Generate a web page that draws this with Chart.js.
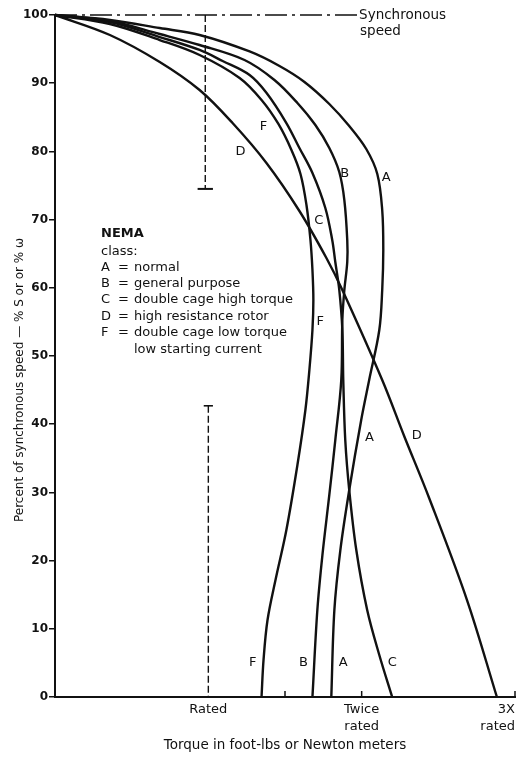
<!DOCTYPE html>
<html>
<head>
<meta charset="utf-8">
<script src="https://cdn.jsdelivr.net/npm/chart.js@4.4.0/dist/chart.umd.min.js"></script>
<style>
  html, body { margin: 0; padding: 0; background: #fff; }
</style>
</head>
<body>
<canvas id="speedTorque" width="519" height="757"></canvas>
<script>
// torque in multiples of rated torque, speed in % of synchronous speed
const torqueA = [0, 0.358, 0.683, 0.943, 1.269, 1.464, 1.627, 1.789, 1.919, 2.030, 2.102, 2.134, 2.141, 2.134, 2.115, 2.049, 1.997, 1.919, 1.861, 1.822, 1.802];
const speedA  = [100, 99.27, 98.09, 97.07, 94.65, 92.52, 90.18, 86.95, 83.72, 80.35, 76.69, 71.41, 65.54, 59.68, 53.81, 46.48, 40.62, 30.35, 21.55, 12.76, 0];

const torqueB = [0, 0.358, 0.683, 0.943, 1.236, 1.431, 1.581, 1.698, 1.789, 1.854, 1.887, 1.906, 1.906, 1.887, 1.874, 1.867, 1.828, 1.789, 1.744, 1.711, 1.679];
const speedB  = [100, 99.12, 97.21, 95.60, 93.40, 90.47, 87.10, 83.87, 80.50, 76.98, 72.87, 67.01, 63.78, 59.68, 55.28, 46.48, 37.68, 29.62, 20.82, 12.76, 0];

const torqueC = [0, 0.358, 0.683, 0.943, 1.093, 1.269, 1.380, 1.509, 1.594, 1.679, 1.763, 1.808, 1.828, 1.854, 1.874, 1.880, 1.893, 1.919, 1.965, 2.036, 2.115, 2.199];
const speedC  = [100, 98.97, 96.77, 94.87, 93.26, 91.20, 88.56, 84.16, 80.50, 76.83, 71.70, 67.01, 63.78, 59.68, 53.81, 46.48, 37.68, 30.35, 21.55, 12.76, 6.16, 0];

const torqueD = [0, 0.358, 0.683, 0.943, 1.158, 1.379, 1.594, 1.770, 1.874, 2.134, 2.277, 2.440, 2.687, 2.882];
const speedD  = [100, 97.07, 93.11, 89.00, 84.16, 78.30, 71.26, 64.37, 59.68, 46.48, 38.27, 29.18, 14.22, 0];

const torqueF = [0, 0.358, 0.683, 0.943, 1.204, 1.347, 1.457, 1.542, 1.601, 1.640, 1.666, 1.679, 1.685, 1.679, 1.659, 1.633, 1.581, 1.509, 1.438, 1.386, 1.360, 1.347];
const speedF  = [100, 98.68, 96.33, 94.13, 90.76, 87.54, 84.02, 80.21, 76.69, 72.14, 67.01, 62.61, 58.21, 53.81, 47.95, 42.08, 34.02, 24.49, 17.16, 11.29, 5.43, 0];

// reference marks
const syncSpeed = 100;
const syncEnd = 1.97;
const ratedUpper = [100, 74.5];
const ratedLower = [42.7, 0];

// axis ticks
const xTickValues = [0, 1, 1.5, 2, 3];
const xTickLabels = ['', 'Rated', '', ['Twice', 'rated'], ['3X', 'rated']];
const xTickMarks = [1.5, 2, 3];

// curve letters placed beside the curves
const labelText   = ['F', 'D', 'B', 'A', 'C', 'F', 'A', 'D', 'F', 'B', 'A', 'C'];
const labelTorque = [1.36, 1.21, 1.89, 2.16, 1.72, 1.73, 2.05, 2.36, 1.29, 1.62, 1.88, 2.20];
const labelSpeed  = [83.6, 79.9, 76.8, 76.1, 69.9, 55.0, 38.0, 38.3, 5.1, 5.1, 5.1, 5.1];

const legendKeys  = ['A', 'B', 'C', 'D', 'F', ''];
const legendNames = ['normal', 'general purpose', 'double cage high torque', 'high resistance rotor',
                     'double cage low torque', 'low starting current'];

const FONT = '"DejaVu Sans", sans-serif';
const INK = '#111';

function points(tq, sp) {
  return tq.map((t, i) => ({ x: t, y: sp[i] }));
}

function curve(tq, sp) {
  return {
    data: points(tq, sp), tension: 0.35,
    borderColor: INK, borderWidth: 2.4, pointRadius: 0, clip: false
  };
}

function mark(data, dash, width) {
  return { data: data, borderColor: INK, borderWidth: width, borderDash: dash, pointRadius: 0, tension: 0, clip: false };
}

const annotate = {
  id: 'annotate',
  afterDatasetsDraw(chart) {
    const { ctx, scales: { x, y } } = chart;
    ctx.save();
    ctx.fillStyle = INK;
    ctx.strokeStyle = INK;

    // inward tick marks on torque axis
    ctx.lineWidth = 1.5;
    xTickMarks.forEach(v => {
      const px = x.getPixelForValue(v);
      ctx.beginPath();
      ctx.moveTo(px, y.bottom);
      ctx.lineTo(px, y.bottom - 6);
      ctx.stroke();
    });

    ctx.textBaseline = 'middle';
    ctx.textAlign = 'center';
    ctx.font = '13px ' + FONT;
    labelText.forEach((txt, i) => {
      ctx.fillText(txt, x.getPixelForValue(labelTorque[i]), y.getPixelForValue(labelSpeed[i]));
    });

    // legend block
    const lx = x.getPixelForValue(0.3);
    let ly = y.getPixelForValue(68.0);
    ctx.textAlign = 'left';
    ctx.font = 'bold 13px ' + FONT;
    ctx.fillText('NEMA', lx, ly);
    ctx.font = '13px ' + FONT;
    ly += 18;
    ctx.fillText('class:', lx, ly);
    legendNames.forEach((name, i) => {
      ly += i === 0 ? 16 : 16.4;
      if (legendKeys[i]) {
        ctx.fillText(legendKeys[i], lx, ly);
        ctx.fillText('=', lx + 17, ly);
      }
      ctx.fillText(name, lx + 33, ly);
    });

    // synchronous speed note
    ctx.font = '13.5px ' + FONT;
    const sx = x.getPixelForValue(syncEnd) + 2;
    const sy = y.getPixelForValue(syncSpeed);
    ctx.fillText('Synchronous', sx, sy);
    ctx.fillText('speed', sx + 1, sy + 16);

    // vertical axis title
    ctx.translate(20, 380);
    ctx.rotate(-Math.PI / 2);
    ctx.textAlign = 'center';
    ctx.font = '12px ' + FONT;
    ctx.fillText('Percent of synchronous speed \u2014 % S or or % \u03c9', 0, 0);
    ctx.restore();
  }
};

new Chart(document.getElementById('speedTorque'), {
  type: 'line',
  data: {
    datasets: [
      curve(torqueA, speedA),
      curve(torqueB, speedB),
      curve(torqueC, speedC),
      curve(torqueD, speedD),
      curve(torqueF, speedF),
      mark([{ x: 0, y: syncSpeed }, { x: syncEnd, y: syncSpeed }], [22, 5, 3, 5], 1.5),
      mark([{ x: 0.98, y: ratedUpper[0] }, { x: 0.98, y: ratedUpper[1] }], [7, 3], 1.4),
      mark([{ x: 0.93, y: ratedUpper[1] }, { x: 1.03, y: ratedUpper[1] }], [], 2),
      mark([{ x: 1.0, y: ratedLower[0] }, { x: 1.0, y: ratedLower[1] }], [7, 3], 1.4),
      mark([{ x: 0.97, y: ratedLower[0] }, { x: 1.03, y: ratedLower[0] }], [], 1.6)
    ]
  },
  options: {
    responsive: false,
    animation: false,
    layout: { padding: { top: 15, right: 3, left: 0, bottom: 0 } },
    plugins: { legend: { display: false }, tooltip: { enabled: false } },
    scales: {
      x: {
        type: 'linear',
        min: 0,
        max: 3,
        afterFit(scale) { scale.height = 60; },
        afterBuildTicks(scale) { scale.ticks = xTickValues.map(v => ({ value: v })); },
        grid: { display: false, drawTicks: false, tickLength: 0 },
        border: { display: true, color: INK, width: 2 },
        ticks: {
          autoSkip: false,
          maxRotation: 0,
          align: 'inner',
          padding: 4,
          color: INK,
          font: { family: FONT, size: 13, lineHeight: 1.3 },
          callback: (v, i) => xTickLabels[i]
        },
        title: {
          display: true,
          text: 'Torque in foot-lbs or Newton meters',
          color: INK,
          font: { family: FONT, size: 13.5 },
          padding: { top: 0, bottom: 3 }
        }
      },
      y: {
        type: 'linear',
        min: 0,
        max: 100,
        afterFit(scale) { scale.width = 55; },
        grid: { display: true, drawOnChartArea: false, drawTicks: true, tickLength: 6, color: INK, lineWidth: 1.5 },
        border: { display: true, color: INK, width: 2 },
        ticks: {
          stepSize: 10,
          padding: 1,
          color: INK,
          font: { family: FONT, size: 12, weight: 'bold' }
        }
      }
    }
  },
  plugins: [annotate]
});
</script>
</body>
</html>
